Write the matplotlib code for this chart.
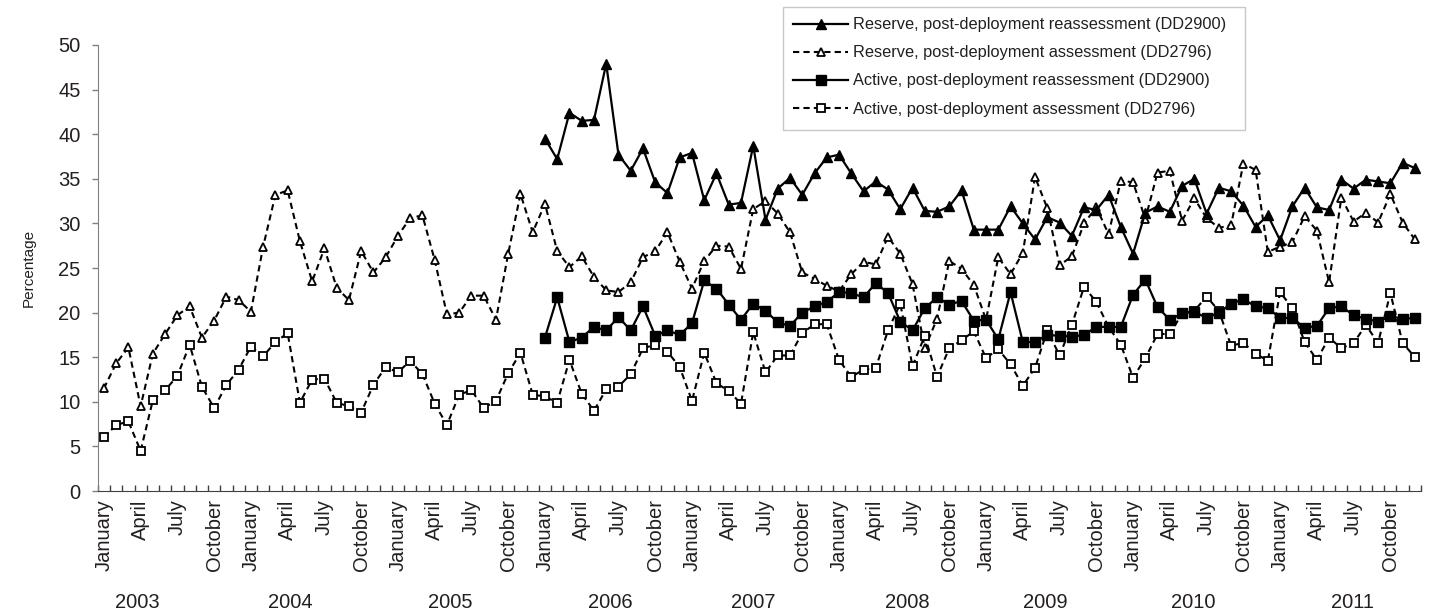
import matplotlib
matplotlib.use("Agg")
import matplotlib.pyplot as plt
from matplotlib.patches import Rectangle
import numpy as np

plt.rcParams['font.family'] = ['Liberation Sans', 'DejaVu Sans']

years = [2003, 2004, 2005, 2006, 2007, 2008, 2009, 2010, 2011]
quarter_months = ['January', 'April', 'July', 'October']

# monthly percentages, January 2003 - December 2011
reserve_pda = [11.5, 14.3, 16.1, 9.5, 15.4, 17.6, 19.7, 20.7, 17.2, 19.1, 21.8, 21.4,
               20.1, 27.4, 33.2, 33.7, 28.0, 23.5, 27.2, 22.8, 21.4, 26.9, 24.5, 26.2,
               28.6, 30.6, 30.9, 25.9, 19.8, 20.0, 21.9, 21.9, 19.2, 26.6, 33.3, 29.0,
               32.2, 26.9, 25.1, 26.3, 24.0, 22.5, 22.3, 23.4, 26.2, 26.9, 29.0, 25.7,
               22.7, 25.8, 27.5, 27.4, 24.9, 31.6, 32.5, 31.1, 29.0, 24.5, 23.8, 23.0,
               22.4, 24.3, 25.7, 25.4, 28.5, 26.6, 23.2, 16.0, 19.3, 25.8, 24.9, 23.1,
               19.2, 26.2, 24.3, 26.7, 35.2, 31.7, 25.3, 26.3, 30.0, 31.8, 28.8, 34.8,
               34.6, 30.5, 35.7, 35.9, 30.3, 32.8, 30.6, 29.5, 29.8, 36.7, 36.0, 26.8,
               27.4, 27.9, 30.8, 29.2, 23.4, 32.9, 30.2, 31.2, 30.1, 33.3, 30.1, 28.2]

active_pda = [6.0, 7.4, 7.8, 4.5, 10.2, 11.3, 12.9, 16.4, 11.7, 9.3, 11.9, 13.6,
              16.2, 15.1, 16.7, 17.7, 9.9, 12.5, 12.6, 9.9, 9.5, 8.8, 11.9, 13.9,
              13.3, 14.6, 13.1, 9.8, 7.4, 10.8, 11.3, 9.3, 10.1, 13.2, 15.5, 10.8,
              10.6, 9.9, 14.7, 10.9, 9.0, 11.4, 11.7, 13.1, 16.0, 16.4, 15.6, 13.9,
              10.1, 15.5, 12.1, 11.2, 9.8, 17.8, 13.3, 15.2, 15.2, 17.7, 18.7, 18.7,
              14.7, 12.8, 13.6, 13.8, 18.0, 21.0, 14.0, 17.4, 12.8, 16.0, 16.9, 17.9,
              14.9, 15.9, 14.2, 11.8, 13.8, 18.0, 15.2, 18.6, 22.9, 21.2, 18.4, 16.4,
              12.7, 14.9, 17.6, 17.6, 19.9, 20.2, 21.8, 20.2, 16.3, 16.6, 15.4, 14.6,
              22.3, 20.5, 16.7, 14.7, 17.2, 16.0, 16.6, 18.6, 16.6, 22.2, 16.6, 15.0]

# reassessment (DD2900) starts January 2006
reserve_pdr = [39.5, 37.2, 42.4, 41.5, 41.6, 47.9, 37.7, 35.9, 38.4, 34.6, 33.4, 37.4,
               37.9, 32.6, 35.6, 32.1, 32.3, 38.7, 30.4, 33.9, 35.1, 33.2, 35.6, 37.4,
               37.7, 35.6, 33.6, 34.7, 33.8, 31.6, 34.0, 31.4, 31.3, 31.9, 33.7, 29.3,
               29.3, 29.3, 31.9, 30.0, 28.2, 30.7, 30.1, 28.6, 31.8, 31.5, 33.2, 29.6,
               26.6, 31.2, 31.9, 31.3, 34.2, 35.0, 31.1, 34.0, 33.6, 32.0, 29.6, 30.9,
               28.1, 31.9, 34.0, 31.8, 31.5, 34.9, 33.9, 34.9, 34.7, 34.5, 36.8, 36.2]

active_pdr = [17.2, 21.7, 16.7, 17.2, 18.4, 18.0, 19.5, 18.0, 20.7, 17.4, 18.0, 17.5,
              18.8, 23.6, 22.7, 20.9, 19.2, 21.0, 20.2, 18.9, 18.5, 20.0, 20.7, 21.2,
              22.3, 22.2, 21.7, 23.3, 22.2, 19.0, 18.0, 20.5, 21.7, 20.9, 21.3, 19.1,
              19.2, 17.0, 22.3, 16.7, 16.7, 17.5, 17.4, 17.3, 17.5, 18.4, 18.4, 18.4,
              22.0, 23.7, 20.6, 19.2, 19.9, 20.1, 19.4, 20.0, 21.0, 21.5, 20.7, 20.5,
              19.4, 19.4, 18.3, 18.5, 20.5, 20.7, 19.7, 19.3, 19.0, 19.6, 19.3, 19.4]

labels = ['Reserve, post-deployment reassessment (DD2900)',
          'Reserve, post-deployment assessment (DD2796)',
          'Active, post-deployment reassessment (DD2900)',
          'Active, post-deployment assessment (DD2796)']

# where the year captions sit (in months from January 2003)
year_label_x = [2.7, 15.2, 28.3, 41.3, 53.0, 65.6, 76.8, 88.9, 101.9]

txt = '#231f20'
n = len(reserve_pda)
x = np.arange(n)
x_pdr = np.arange(n - len(reserve_pdr), n)

fig = plt.figure(figsize=(14.29, 6.13), dpi=100)
ax = fig.add_axes([0.0684, 0.199, 0.926, 0.7276])

dash = (3, 2)
l2, = ax.plot(x, reserve_pda, color='black', lw=1.5, dashes=dash, marker='^',
              ms=6, mfc='white', mec='black', mew=1.3)
l4, = ax.plot(x, active_pda, color='black', lw=1.5, dashes=dash, marker='s',
              ms=6, mfc='white', mec='black', mew=1.3)
l1, = ax.plot(x_pdr, reserve_pdr, color='black', lw=1.6, marker='^', ms=6.5,
              mfc='black', mec='black')
l3, = ax.plot(x_pdr, active_pdr, color='black', lw=1.6, marker='s', ms=6.5,
              mfc='black', mec='black')

ax.set_xlim(-0.5, n - 0.5)
ax.set_ylim(0, 50)
ax.set_yticks(np.arange(0, 51, 5))
ax.tick_params(axis='y', direction='out', length=4.3, width=1, color='#808080',
               labelsize=14.5, labelcolor=txt, pad=8)

ax.set_xticks(np.arange(0, n, 3))
ax.set_xticklabels(quarter_months * len(years), rotation=90)
ax.set_xticks(np.arange(-0.5, n, 1), minor=True)
ax.tick_params(axis='x', which='major', length=0, labelsize=14.5, labelcolor=txt, pad=6)
ax.tick_params(axis='x', which='minor', direction='in', length=4, width=1, color='#404040')

for s in ['top', 'right']:
    ax.spines[s].set_visible(False)
ax.spines['left'].set_color('#808080')
ax.spines['bottom'].set_color('#404040')

for yr, xp in zip(years, year_label_x):
    ax.text(xp, -0.251, str(yr), transform=ax.get_xaxis_transform(),
            ha='center', va='center', fontsize=14.5, color=txt)

ax.set_ylabel('Percentage', fontsize=11, color=txt)
ax.yaxis.set_label_coords(-0.047, 0.5)

# legend box drawn separately so its padding matches
W, H = 1429.0, 613.0
fig.patches.append(Rectangle((783 / W, 1 - 130 / H), (1245 - 783) / W, (130 - 7) / H,
                             transform=fig.transFigure, fill=False,
                             edgecolor='#c8c8c8', lw=1))
leg = fig.legend([l1, l2, l3, l4], labels, loc='upper left',
                 bbox_to_anchor=(790 / W, 1 - 14 / H), fontsize=11.8, frameon=False,
                 handlelength=3.35, labelspacing=0.8,
                 borderpad=0.2, handletextpad=0.3, borderaxespad=0)
for t in leg.get_texts():
    t.set_color(txt)

plt.savefig("out.png", dpi=100)
